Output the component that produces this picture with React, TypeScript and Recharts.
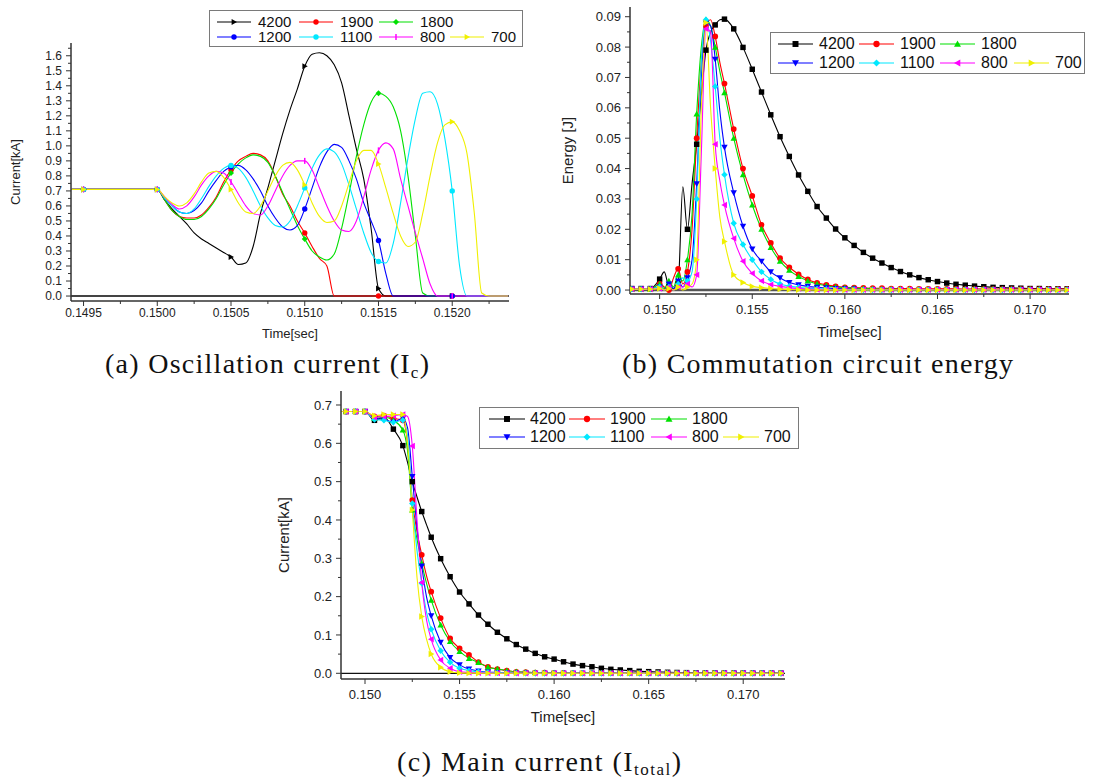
import React from 'react';
import { LineChart, Line, XAxis, YAxis, ReferenceLine } from 'recharts';

// series names, in legend order
const SERIES = ['4200', '1900', '1800', '1200', '1100', '800', '700'];

const COLOUR: Record<string, string> = {
  '4200': '#000000',
  '1900': '#ff0000',
  '1800': '#00e000',
  '1200': '#0000ff',
  '1100': '#00e8ff',
  '800': '#ff00ff',
  '700': '#f0f000',
};

// ---------- (a) oscillation current Ic [kA] ----------
const TIME_A = [
  0.14942, 0.1495, 0.15, 0.15005, 0.1501, 0.15015, 0.1502, 0.15025, 0.1503, 0.15035,
  0.1504, 0.15045, 0.1505, 0.15055, 0.1506, 0.15065, 0.1507, 0.15075, 0.1508, 0.15085,
  0.1509, 0.15095, 0.151, 0.15105, 0.1511, 0.15115, 0.1512, 0.15125, 0.1513, 0.15135,
  0.1514, 0.15145, 0.1515, 0.15155, 0.1516, 0.15165, 0.1517, 0.15175, 0.1518, 0.15185,
  0.1519, 0.15195, 0.152, 0.15205, 0.1521, 0.15215, 0.1522, 0.15225, 0.1523, 0.15238,
];
const IC_4200 = [
  0.71, 0.71, 0.71, 0.64, 0.58, 0.53, 0.48, 0.42, 0.38, 0.35, 0.32, 0.29, 0.26, 0.21, 0.22,
  0.33, 0.55, 0.72, 0.9, 1.08, 1.24, 1.38, 1.53, 1.61, 1.62, 1.6, 1.54, 1.42, 1.2, 0.98,
  0.78, 0.45, 0.05, 0, 0, 0, 0, 0, 0, 0, 0, 0, 0, 0, 0, 0, 0, 0, 0, 0,
];
const IC_1900 = [
  0.71, 0.71, 0.71, 0.64, 0.57, 0.53, 0.52, 0.52, 0.54, 0.59, 0.66, 0.76, 0.84, 0.9, 0.93,
  0.95, 0.94, 0.9, 0.8, 0.68, 0.6, 0.5, 0.42, 0.33, 0.25, 0.2, 0, 0, 0, 0,
  0, 0, 0, 0, 0, 0, 0, 0, 0, 0, 0, 0, 0, 0, 0, 0, 0, 0, 0, 0,
];
const IC_1800 = [
  0.71, 0.71, 0.71, 0.64, 0.57, 0.53, 0.51, 0.51, 0.53, 0.58, 0.65, 0.74, 0.82, 0.88, 0.92,
  0.94, 0.93, 0.89, 0.8, 0.69, 0.58, 0.47, 0.38, 0.3, 0.26, 0.24, 0.28, 0.45, 0.68, 0.93,
  1.14, 1.29, 1.35, 1.33, 1.26, 1.1, 0.8, 0.4, 0.02, 0, 0, 0, 0, 0, 0, 0, 0, 0, 0, 0,
];
const IC_1200 = [
  0.71, 0.71, 0.71, 0.65, 0.6, 0.56, 0.55, 0.57, 0.62, 0.7, 0.77, 0.83, 0.86, 0.87, 0.84,
  0.78, 0.7, 0.6, 0.52, 0.46, 0.44, 0.47, 0.58, 0.72, 0.86, 0.96, 1.01, 0.99, 0.9, 0.78,
  0.62, 0.5, 0.37, 0.15, 0, 0, 0, 0, 0, 0, 0, 0, 0, 0, 0, 0, 0, 0, 0, 0,
];
const IC_1100 = [
  0.71, 0.71, 0.71, 0.65, 0.6, 0.56, 0.55, 0.58, 0.65, 0.73, 0.8, 0.85, 0.87, 0.85, 0.79,
  0.7, 0.6, 0.52, 0.47, 0.46, 0.5, 0.6, 0.72, 0.85, 0.94, 0.98, 0.96, 0.88, 0.74, 0.58,
  0.42, 0.29, 0.23, 0.22, 0.35, 0.62, 0.92, 1.18, 1.35, 1.36, 1.28, 1.05, 0.7, 0.2, 0,
  0, 0, 0, 0, 0,
];
const IC_800 = [
  0.71, 0.71, 0.71, 0.66, 0.61, 0.58, 0.6, 0.66, 0.74, 0.8, 0.83, 0.82, 0.76, 0.68, 0.6,
  0.55, 0.54, 0.6, 0.7, 0.8, 0.87, 0.9, 0.9, 0.84, 0.72, 0.6, 0.5, 0.44, 0.43, 0.5,
  0.66, 0.84, 0.97, 1.02, 0.98, 0.78, 0.6, 0.42, 0.25, 0.08, 0, 0, 0, 0, 0, 0, 0, 0, 0, 0,
];
const IC_700 = [
  0.71, 0.71, 0.71, 0.66, 0.62, 0.6, 0.62, 0.68, 0.76, 0.82, 0.83, 0.79, 0.71, 0.62, 0.56,
  0.55, 0.6, 0.7, 0.8, 0.87, 0.89, 0.84, 0.74, 0.62, 0.53, 0.49, 0.5, 0.6, 0.75, 0.9,
  0.97, 0.97, 0.88, 0.72, 0.55, 0.4, 0.33, 0.36, 0.55, 0.8, 1.02, 1.14, 1.16, 1.1, 0.95,
  0.55, 0.02, 0, 0, 0,
];

// ---------- (b) commutation circuit energy [J] ----------
const TIME_B = [
  0.1485, 0.149, 0.1495, 0.15, 0.15025, 0.1505, 0.15075, 0.151, 0.15125, 0.1515,
  0.15175, 0.152, 0.15225, 0.1525, 0.15275, 0.153, 0.15325, 0.1535, 0.154, 0.1545,
  0.155, 0.1555, 0.156, 0.1565, 0.157, 0.1575, 0.158, 0.1585, 0.159, 0.1595,
  0.16, 0.1605, 0.161, 0.1615, 0.162, 0.1625, 0.163, 0.1635, 0.164, 0.1645,
  0.165, 0.1655, 0.166, 0.1665, 0.167, 0.1675, 0.168, 0.1685, 0.169, 0.1695,
  0.17, 0.1705, 0.171, 0.1715, 0.172,
];
const EN_4200 = [
  0.0005, 0.0005, 0.0005, 0.0036, 0.006, 0.001, 0.0003, 0.002, 0.034, 0.02,
  0.035, 0.048, 0.064, 0.079, 0.085, 0.0873, 0.089, 0.0892, 0.086, 0.0799,
  0.0727, 0.0652, 0.0577, 0.0505, 0.044, 0.0379, 0.0325, 0.0275, 0.0237, 0.0201,
  0.0172, 0.0147, 0.0124, 0.0105, 0.0089, 0.0074, 0.0061, 0.005, 0.0041, 0.0034,
  0.0028, 0.0023, 0.0019, 0.0016, 0.0013, 0.0011, 0.0009, 0.0008, 0.0007, 0.0006,
  0.0005, 0.0005, 0.0004, 0.0004, 0.0004,
];
const EN_1900 = [
  0.0003, 0.0003, 0.0003, 0.002, 0.001, 0, 0.004, 0.007, 0.002, 0.006,
  0.02, 0.05, 0.075, 0.087, 0.089, 0.0835, 0.075, 0.068, 0.053, 0.04,
  0.031, 0.0215, 0.0155, 0.0105, 0.0075, 0.0052, 0.0035, 0.0024, 0.0017, 0.0012,
  0.0009, 0.0008, 0.0007, 0.0006, 0.0006, 0.0005, 0.0005, 0.0005, 0.0004, 0.0004,
  0.0004, 0.0004, 0.0004, 0.0003, 0.0003, 0.0003, 0.0003, 0.0003, 0.0003, 0.0003,
  0.0003, 0.0003, 0.0003, 0.0003, 0.0003,
];
const EN_1800 = [
  0.0003, 0.0003, 0.0003, 0.002, 0.0005, 0.003, 0.001, 0.005, 0.003, 0.01,
  0.025, 0.058, 0.08, 0.089, 0.087, 0.08, 0.072, 0.065, 0.05, 0.038,
  0.028, 0.02, 0.014, 0.0095, 0.0065, 0.0045, 0.003, 0.002, 0.0014, 0.001,
  0.0008, 0.0006, 0.0005, 0.0004, 0.0003, 0.0003, 0.0002, 0.0002, 0.0002, 0.0002,
  0.0002, 0.0002, 0.0002, 0.0002, 0.0002, 0.0002, 0.0002, 0.0002, 0.0002, 0.0002,
  0.0002, 0.0002, 0.0002, 0.0002, 0.0002,
];
const EN_1200 = [
  0.0003, 0.0003, 0.0003, 0.001, 0, 0.002, 0.0005, 0.003, 0.001, 0.004,
  0.01, 0.035, 0.07, 0.088, 0.087, 0.076, 0.059, 0.047, 0.032, 0.021,
  0.0135, 0.0095, 0.006, 0.004, 0.0025, 0.0017, 0.0012, 0.0009, 0.0007, 0.0005,
  0.0004, 0.0003, 0.0002, 0.0002, 0.0001, 0.0001, 0.0001, 0.0001, 0.0001, 0.0001,
  0.0001, 0.0001, 0.0001, 0.0001, 0.0001, 0.0001, 0.0001, 0.0001, 0.0001, 0.0001,
  0.0001, 0.0001, 0.0001, 0.0001, 0.0001,
];
const EN_1100 = [
  0.0003, 0.0003, 0.0003, 0.001, 0, 0.001, 0, 0.002, 0.004, 0.003,
  0.006, 0.03, 0.075, 0.089, 0.082, 0.067, 0.05, 0.038, 0.022, 0.015,
  0.01, 0.006, 0.0035, 0.002, 0.0013, 0.0009, 0.0006, 0.0004, 0.0003, 0.0002,
  0.0002, 0.0001, 0.0001, 0.0001, 0.0001, 0.0001, 0.0001, 0.0001, 0.0001, 0.0001,
  0.0001, 0.0001, 0.0001, 0.0001, 0.0001, 0.0001, 0.0001, 0.0001, 0.0001, 0.0001,
  0.0001, 0.0001, 0.0001, 0.0001, 0.0001,
];
const EN_800 = [
  0.0003, 0.0003, 0.0003, 0.0005, 0, 0.001, 0, 0.001, 0.001, 0.002,
  0.001, 0.005, 0.045, 0.086, 0.085, 0.048, 0.036, 0.028, 0.017, 0.0095,
  0.0055, 0.003, 0.0018, 0.0012, 0.0008, 0.0005, 0.0003, 0.0002, 0.0001, 0.0001,
  0.0001, 0.0001, 0.0001, 0.0001, 0.0001, 0.0001, 0.0001, 0.0001, 0.0001, 0.0001,
  0.0001, 0.0001, 0.0001, 0.0001, 0.0001, 0.0001, 0.0001, 0.0001, 0.0001, 0.0001,
  0.0001, 0.0001, 0.0001, 0.0001, 0.0001,
];
const EN_700 = [
  0.0003, 0.0003, 0.0003, 0.0005, 0, 0.0005, 0, 0.001, 0, 0.001,
  0.002, 0.01, 0.06, 0.088, 0.06, 0.04, 0.024, 0.016, 0.005, 0.0025,
  0.0012, 0.0008, 0.0005, 0.0003, 0.0002, 0.0001, 0, 0, 0, 0,
  0, 0, 0, 0, 0, 0, 0, 0, 0, 0,
  0, 0, 0, 0, 0, 0, 0, 0, 0, 0,
  0, 0, 0, 0, 0,
];

// ---------- (c) main current Itotal [kA] ----------
const TIME_C = [
  0.14875, 0.149, 0.1495, 0.15, 0.1505, 0.151, 0.1515, 0.152, 0.15225, 0.1525,
  0.15275, 0.153, 0.15325, 0.1535, 0.154, 0.1545, 0.155, 0.1555, 0.156, 0.1565,
  0.157, 0.1575, 0.158, 0.1585, 0.159, 0.1595, 0.16, 0.1605, 0.161, 0.1615,
  0.162, 0.1625, 0.163, 0.1635, 0.164, 0.1645, 0.165, 0.1655, 0.166, 0.1665,
  0.167, 0.1675, 0.168, 0.1685, 0.169, 0.1695, 0.17, 0.1705, 0.171, 0.1715, 0.172,
];
const IT_4200 = [
  0.683, 0.683, 0.683, 0.683, 0.66, 0.668, 0.637, 0.594, 0.55, 0.5,
  0.46, 0.422, 0.388, 0.355, 0.299, 0.252, 0.212, 0.181, 0.152, 0.128,
  0.107, 0.09, 0.075, 0.063, 0.052, 0.043, 0.037, 0.03, 0.024, 0.02,
  0.017, 0.013, 0.0104, 0.0087, 0.007, 0.0052, 0.0043, 0.0035, 0.0026, 0.0021,
  0.0017, 0.0014, 0.0011, 0.0009, 0.0007, 0.0006, 0.0005, 0.0004, 0.0003, 0.0003, 0.0002,
];
const IT_1900 = [
  0.683, 0.683, 0.683, 0.683, 0.67, 0.672, 0.665, 0.66, 0.6, 0.452,
  0.37, 0.309, 0.255, 0.213, 0.144, 0.091, 0.065, 0.048, 0.029, 0.017,
  0.011, 0.007, 0.004, 0.003, 0.002, 0.0015, 0.001, 0.0008, 0.0006, 0.0005,
  0.0004, 0.0003, 0.0003, 0.0002, 0.0002, 0.0002, 0.0001, 0.0001, 0.0001, 0.0001,
  0.0001, 0.0001, 0.0001, 0.0001, 0.0001, 0.0001, 0.0001, 0.0001, 0.0001, 0.0001, 0.0001,
];
const IT_1800 = [
  0.683, 0.683, 0.683, 0.683, 0.665, 0.668, 0.66, 0.635, 0.58, 0.426,
  0.35, 0.287, 0.235, 0.191, 0.126, 0.083, 0.057, 0.039, 0.028, 0.016,
  0.011, 0.007, 0.004, 0.003, 0.002, 0.0015, 0.001, 0.0008, 0.0006, 0.0005,
  0.0004, 0.0003, 0.0003, 0.0002, 0.0002, 0.0002, 0.0001, 0.0001, 0.0001, 0.0001,
  0.0001, 0.0001, 0.0001, 0.0001, 0.0001, 0.0001, 0.0001, 0.0001, 0.0001, 0.0001, 0.0001,
];
const IT_1200 = [
  0.683, 0.683, 0.683, 0.683, 0.665, 0.662, 0.655, 0.665, 0.64, 0.513,
  0.38, 0.28, 0.2, 0.15, 0.081, 0.041, 0.022, 0.011, 0.006, 0.003,
  0.002, 0.001, 0.0005, 0.0003, 0.0002, 0.0001, 0.0001, 0, 0, 0,
  0, 0, 0, 0, 0, 0, 0, 0, 0, 0,
  0, 0, 0, 0, 0, 0, 0, 0, 0, 0, 0,
];
const IT_1100 = [
  0.683, 0.683, 0.683, 0.683, 0.662, 0.66, 0.655, 0.66, 0.62, 0.443,
  0.32, 0.235, 0.16, 0.115, 0.059, 0.0287, 0.013, 0.007, 0.004, 0.002,
  0.001, 0.0005, 0.0003, 0.0002, 0.0001, 0, 0, 0, 0, 0,
  0, 0, 0, 0, 0, 0, 0, 0, 0, 0,
  0, 0, 0, 0, 0, 0, 0, 0, 0, 0, 0,
];
const IT_800 = [
  0.683, 0.683, 0.683, 0.683, 0.668, 0.67, 0.672, 0.675, 0.67, 0.593,
  0.4, 0.237, 0.14, 0.0887, 0.0348, 0.013, 0.004, 0.002, 0.001, 0.0005,
  0.0003, 0.0001, 0, 0, 0, 0, 0, 0, 0, 0,
  0, 0, 0, 0, 0, 0, 0, 0, 0, 0,
  0, 0, 0, 0, 0, 0, 0, 0, 0, 0, 0,
];
const IT_700 = [
  0.683, 0.683, 0.683, 0.683, 0.672, 0.675, 0.675, 0.675, 0.6, 0.426,
  0.25, 0.148, 0.09, 0.0504, 0.0157, 0.004, 0.001, 0.0003, 0, 0,
  0, 0, 0, 0, 0, 0, 0, 0, 0, 0,
  0, 0, 0, 0, 0, 0, 0, 0, 0, 0,
  0, 0, 0, 0, 0, 0, 0, 0, 0, 0, 0,
];

// tick labels
const X_MAJOR_A = [0.1495, 0.15, 0.1505, 0.151, 0.1515, 0.152];
const Y_MAJOR_A = [0, 0.1, 0.2, 0.3, 0.4, 0.5, 0.6, 0.7, 0.8, 0.9, 1.0, 1.1, 1.2, 1.3, 1.4, 1.5, 1.6];
const X_MAJOR_BC = [0.15, 0.155, 0.16, 0.165, 0.17];
const Y_MAJOR_B = [0, 0.01, 0.02, 0.03, 0.04, 0.05, 0.06, 0.07, 0.08, 0.09];
const Y_MAJOR_C = [0, 0.1, 0.2, 0.3, 0.4, 0.5, 0.6, 0.7];

const AXIS = '#333';
const SANS = '"Liberation Sans", Arial, sans-serif';
const SERIF = '"Liberation Serif", "DejaVu Serif", serif';
const TICK_SIZE = 6;
const TICK_MARGIN = 2;

type Shape = 'square' | 'circle' | 'triUp' | 'triDown' | 'diamond' | 'triLeft' | 'triRight' | 'bar';

const SHAPES_A: Record<string, Shape> = {
  '4200': 'triRight', '1900': 'circle', '1800': 'diamond', '1200': 'circle',
  '1100': 'circle', '800': 'bar', '700': 'triRight',
};
const SHAPES_BC: Record<string, Shape> = {
  '4200': 'square', '1900': 'circle', '1800': 'triUp', '1200': 'triDown',
  '1100': 'diamond', '800': 'triLeft', '700': 'triRight',
};

function buildRows(times: number[], cols: Record<string, number[]>) {
  return times.map((t, i) => {
    const row: Record<string, number> = { t };
    for (const s of SERIES) row['s' + s] = cols[s][i] ?? 0;
    return row;
  });
}

const ROWS_A = buildRows(TIME_A, {
  '4200': IC_4200, '1900': IC_1900, '1800': IC_1800, '1200': IC_1200,
  '1100': IC_1100, '800': IC_800, '700': IC_700,
});
const ROWS_B = buildRows(TIME_B, {
  '4200': EN_4200, '1900': EN_1900, '1800': EN_1800, '1200': EN_1200,
  '1100': EN_1100, '800': EN_800, '700': EN_700,
});
const ROWS_C = buildRows(TIME_C, {
  '4200': IT_4200, '1900': IT_1900, '1800': IT_1800, '1200': IT_1200,
  '1100': IT_1100, '800': IT_800, '700': IT_700,
});

// markers sit on every 0.5 ms sample
const onMarkerGrid = (t: number) => Math.abs(t * 2000 - Math.round(t * 2000)) < 1e-6;

const withMinors = (majors: number[], domain: [number, number]) => {
  const step = majors[1] - majors[0];
  const out = [...majors];
  for (const m of majors) {
    out.push(m - step / 2, m + step / 2);
  }
  return [...new Set(out.map(v => +v.toFixed(6)))]
    .filter(v => v >= domain[0] && v <= domain[1])
    .sort((a, b) => a - b);
};
const isMajor = (v: number, majors: number[]) => majors.some(m => Math.abs(m - v) < 1e-9);

function Marker({ shape, cx, cy, r, color }: { shape: Shape; cx: number; cy: number; r: number; color: string }) {
  switch (shape) {
    case 'square':
      return <rect x={cx - r * 0.85} y={cy - r * 0.85} width={r * 1.7} height={r * 1.7} fill={color} />;
    case 'circle':
      return <circle cx={cx} cy={cy} r={r * 0.9} fill={color} />;
    case 'triUp':
      return <polygon points={`${cx},${cy - r} ${cx + r},${cy + r * 0.8} ${cx - r},${cy + r * 0.8}`} fill={color} />;
    case 'triDown':
      return <polygon points={`${cx - r},${cy - r * 0.8} ${cx + r},${cy - r * 0.8} ${cx},${cy + r}`} fill={color} />;
    case 'triLeft':
      return <polygon points={`${cx - r},${cy} ${cx + r * 0.8},${cy - r} ${cx + r * 0.8},${cy + r}`} fill={color} />;
    case 'triRight':
      return <polygon points={`${cx + r},${cy} ${cx - r * 0.8},${cy - r} ${cx - r * 0.8},${cy + r}`} fill={color} />;
    case 'diamond':
      return <polygon points={`${cx},${cy - r} ${cx + r},${cy} ${cx},${cy + r} ${cx - r},${cy}`} fill={color} />;
    case 'bar':
      return <line x1={cx} x2={cx} y1={cy - r} y2={cy + r} stroke={color} strokeWidth={1.5} />;
  }
  return null;
}

const makeDot = (shape: Shape, color: string, r: number) => (props: any) => {
  const { cx, cy, payload, index } = props;
  if (cx == null || cy == null || !payload || !onMarkerGrid(payload.t)) {
    return <g key={`d${index}`} />;
  }
  return (
    <g key={`d${index}`}>
      <Marker shape={shape} cx={cx} cy={cy} r={r} color={color} />
    </g>
  );
};

function XTick(props: any) {
  const { x, y, payload, majors, digits, fontSize, gap } = props;
  const ay = y - TICK_SIZE - TICK_MARGIN;
  const major = isMajor(payload.value, majors);
  return (
    <g>
      <line x1={x} x2={x} y1={ay} y2={ay + (major ? 5 : 3)} stroke={AXIS} strokeWidth={1} />
      {major && (
        <text x={x} y={ay + gap} dy="0.35em" textAnchor="middle" fontSize={fontSize} fontFamily={SANS} fill="#222">
          {payload.value.toFixed(digits)}
        </text>
      )}
    </g>
  );
}

function YTick(props: any) {
  const { x, y, payload, majors, digits, fontSize } = props;
  const ax = x + TICK_SIZE + TICK_MARGIN;
  const major = isMajor(payload.value, majors);
  return (
    <g>
      <line x1={ax - (major ? 5 : 3)} x2={ax} y1={y} y2={y} stroke={AXIS} strokeWidth={1} />
      {major && (
        <text x={ax - 9} y={y} dy="0.35em" textAnchor="end" fontSize={fontSize} fontFamily={SANS} fill="#222">
          {payload.value.toFixed(digits)}
        </text>
      )}
    </g>
  );
}

interface PanelProps {
  frame: { left: number; top: number; width: number; height: number };
  margin: { top: number; right: number; left: number; bottom: number };
  yAxisWidth: number;
  xAxisHeight: number;
  rows: Record<string, number>[];
  xDomain: [number, number];
  yDomain: [number, number];
  xMajors: number[];
  yMajors: number[];
  xDigits: number;
  yDigits: number;
  tickFont: number;
  xLabelGap: number;
  yTitle: string;
  yTitleOffset: number;
  xTitleOffset: number;
  titleFont: number;
  shapes: Record<string, Shape>;
  markerR: number;
  zeroStroke: string;
  zeroWidth: number;
}

function Panel(p: PanelProps) {
  const xTicks = withMinors(p.xMajors, p.xDomain);
  const yTicks = withMinors(p.yMajors, p.yDomain);
  return (
    <div style={{ position: 'absolute', left: p.frame.left, top: p.frame.top }}>
      <LineChart width={p.frame.width} height={p.frame.height} data={p.rows} margin={p.margin}>
        <XAxis
          dataKey="t"
          type="number"
          domain={p.xDomain}
          allowDataOverflow
          ticks={xTicks}
          interval={0}
          height={p.xAxisHeight}
          tickSize={TICK_SIZE}
          tickMargin={TICK_MARGIN}
          tickLine={false}
          axisLine={{ stroke: AXIS, strokeWidth: 1.5 }}
          tick={(tp: any) => (
            <XTick {...tp} majors={p.xMajors} digits={p.xDigits} fontSize={p.tickFont} gap={p.xLabelGap} />
          )}
          label={{
            value: 'Time[sec]',
            position: 'insideBottom',
            offset: p.xTitleOffset,
            style: { fontSize: p.titleFont, fill: '#222', fontFamily: SANS },
          }}
        />
        <YAxis
          type="number"
          domain={p.yDomain}
          allowDataOverflow
          ticks={yTicks}
          interval={0}
          width={p.yAxisWidth}
          tickSize={TICK_SIZE}
          tickMargin={TICK_MARGIN}
          tickLine={false}
          axisLine={{ stroke: AXIS, strokeWidth: 1.5 }}
          tick={(tp: any) => <YTick {...tp} majors={p.yMajors} digits={p.yDigits} fontSize={p.tickFont} />}
          label={{
            value: p.yTitle,
            angle: -90,
            position: 'insideLeft',
            offset: p.yTitleOffset,
            style: { textAnchor: 'middle', fontSize: p.titleFont, fill: '#222', fontFamily: SANS },
          }}
        />
        <ReferenceLine y={0} stroke={p.zeroStroke} strokeWidth={p.zeroWidth} />
        {SERIES.map(s => (
          <Line
            key={s}
            dataKey={'s' + s}
            name={s}
            type="monotone"
            stroke={COLOUR[s]}
            strokeWidth={1.1}
            dot={makeDot(p.shapes[s], COLOUR[s], p.markerR)}
            activeDot={false}
            isAnimationActive={false}
          />
        ))}
      </LineChart>
    </div>
  );
}

interface LegendProps {
  box: { left: number; top: number; width: number; height: number };
  colX: number[];
  rowY: number[];
  lineLen: number;
  textGap: number;
  fontSize: number;
  shapes: Record<string, Shape>;
  markerR: number;
}

function LegendBox({ box, colX, rowY, lineLen, textGap, fontSize, shapes, markerR }: LegendProps) {
  return (
    <div
      style={{
        position: 'absolute', left: box.left, top: box.top, width: box.width, height: box.height,
        border: '1.5px solid #7a7a7a', boxSizing: 'border-box', background: '#fff', fontFamily: SANS,
      }}
    >
      {SERIES.map((s, i) => {
        const row = i < 3 ? 0 : 1;
        const col = i < 3 ? i : i - 3;
        return (
          <div
            key={s}
            style={{
              position: 'absolute', left: colX[col], top: rowY[row] - 9, height: 18,
              display: 'flex', alignItems: 'center', whiteSpace: 'nowrap',
            }}
          >
            <svg width={lineLen} height={18}>
              <line x1={0} x2={lineLen} y1={9} y2={9} stroke={COLOUR[s]} strokeWidth={1.2} />
              <Marker shape={shapes[s]} cx={lineLen / 2} cy={9} r={markerR} color={COLOUR[s]} />
            </svg>
            <span style={{ marginLeft: textGap, fontSize, lineHeight: '18px', color: '#111' }}>{s}</span>
          </div>
        );
      })}
    </div>
  );
}

export default function App() {
  return (
    <div
      style={{
        position: 'absolute', left: 0, top: 0, width: 1093, height: 782,
        background: '#fff', overflow: 'hidden',
      }}
    >
      <Panel
        frame={{ left: 0, top: 0, width: 525, height: 345 }}
        margin={{ top: 43, right: 16, left: 0, bottom: 0 }}
        yAxisWidth={71}
        xAxisHeight={44}
        rows={ROWS_A}
        xDomain={[0.149415, 0.152385]}
        yDomain={[-0.033, 1.685]}
        xMajors={X_MAJOR_A}
        yMajors={Y_MAJOR_A}
        xDigits={4}
        yDigits={1}
        tickFont={12}
        xLabelGap={12}
        yTitle="Current[kA]"
        yTitleOffset={15}
        xTitleOffset={7}
        titleFont={13}
        shapes={SHAPES_A}
        markerR={3}
        zeroStroke="#444"
        zeroWidth={2}
      />
      <Panel
        frame={{ left: 545, top: 0, width: 548, height: 345 }}
        margin={{ top: 7, right: 24, left: 0, bottom: 0 }}
        yAxisWidth={85}
        xAxisHeight={51}
        rows={ROWS_B}
        xDomain={[0.1484, 0.1721]}
        yDomain={[-0.0013, 0.0932]}
        xMajors={X_MAJOR_BC}
        yMajors={Y_MAJOR_B}
        xDigits={3}
        yDigits={2}
        tickFont={13}
        xLabelGap={15}
        yTitle="Energy [J]"
        yTitleOffset={23}
        xTitleOffset={8}
        titleFont={15}
        shapes={SHAPES_BC}
        markerR={3.2}
        zeroStroke="#555"
        zeroWidth={2.5}
      />
      <Panel
        frame={{ left: 270, top: 360, width: 530, height: 380 }}
        margin={{ top: 31, right: 15, left: 0, bottom: 0 }}
        yAxisWidth={71}
        xAxisHeight={61}
        rows={ROWS_C}
        xDomain={[0.14873, 0.17221]}
        yDomain={[-0.0149, 0.7365]}
        xMajors={X_MAJOR_BC}
        yMajors={Y_MAJOR_C}
        xDigits={3}
        yDigits={1}
        tickFont={13}
        xLabelGap={15}
        yTitle="Current[kA]"
        yTitleOffset={14}
        xTitleOffset={18}
        titleFont={15}
        shapes={SHAPES_BC}
        markerR={3.2}
        zeroStroke="#111"
        zeroWidth={1.2}
      />

      <LegendBox
        box={{ left: 209, top: 10, width: 314, height: 37 }}
        colX={[7, 89, 169, 240]}
        rowY={[10.5, 26]}
        lineLen={34}
        textGap={7}
        fontSize={15}
        shapes={SHAPES_A}
        markerR={3}
      />
      <LegendBox
        box={{ left: 770, top: 32, width: 315, height: 42 }}
        colX={[7, 88, 169, 243]}
        rowY={[11.3, 29.5]}
        lineLen={35}
        textGap={6}
        fontSize={16}
        shapes={SHAPES_BC}
        markerR={3.5}
      />
      <LegendBox
        box={{ left: 479, top: 407, width: 320, height: 42 }}
        colX={[9, 89, 171, 243]}
        rowY={[11.3, 29]}
        lineLen={36}
        textGap={5}
        fontSize={16}
        shapes={SHAPES_BC}
        markerR={3.5}
      />

      <svg width={1093} height={782} style={{ position: 'absolute', left: 0, top: 0, pointerEvents: 'none' }}>
        <text x={105} y={373} fontSize={28} fontFamily={SERIF} fill="#111" textLength={324} lengthAdjust="spacing">
          (a) Oscillation current (I
          <tspan fontSize={17} dy={5}>c</tspan>
          <tspan dy={-5}>)</tspan>
        </text>
        <text x={622} y={373} fontSize={28} fontFamily={SERIF} fill="#111" textLength={391} lengthAdjust="spacing">
          (b) Commutation circuit energy
        </text>
        <text x={397} y={771} fontSize={28} fontFamily={SERIF} fill="#111" textLength={284} lengthAdjust="spacing">
          (c) Main current (I
          <tspan fontSize={17} dy={4}>total</tspan>
          <tspan dy={-4}>)</tspan>
        </text>
      </svg>
    </div>
  );
}
